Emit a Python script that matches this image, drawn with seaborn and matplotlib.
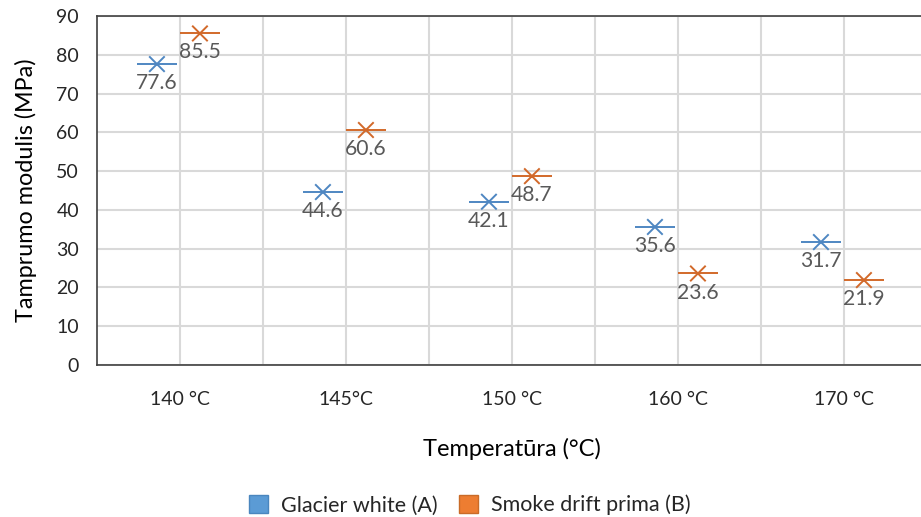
import matplotlib
matplotlib.use("Agg")
import matplotlib.pyplot as plt
import matplotlib.patches as mpatches
import seaborn as sns
import pandas as pd
import numpy as np

categories = ["140 °C", "145°C", "150 °C", "160 °C", "170 °C"]
glacier = [77.6, 44.6, 42.1, 35.6, 31.7]
smoke = [85.5, 60.6, 48.7, 23.6, 21.9]
series_names = ["Glacier white (A)", "Smoke drift prima (B)"]

sns.set_theme(style="white")
plt.rcParams["font.family"] = ["Lato", "DejaVu Sans"]

blue_line = "#4F87C2"
orange_line = "#D2692A"
blue_fill = "#5B9BD5"
orange_fill = "#ED7D31"

idx = np.arange(1, len(categories) + 1)
df = pd.DataFrame({
    "x": np.concatenate([idx - 0.139, idx + 0.12]),
    "y": glacier + smoke,
    "series": [series_names[0]] * len(glacier) + [series_names[1]] * len(smoke),
})

fig = plt.figure(figsize=(9.21, 5.17), dpi=100)
ax = fig.add_axes([97 / 921, (517 - 365) / 517, 830 / 921, 349 / 517])

palette = {series_names[0]: blue_line, series_names[1]: orange_line}
sns.scatterplot(data=df, x="x", y="y", hue="series", palette=palette,
                marker="_", s=860, linewidth=1.4, legend=False, ax=ax, zorder=3)
sns.scatterplot(data=df, x="x", y="y", hue="series", palette=palette,
                marker="x", s=125, linewidth=1.4, legend=False, ax=ax, zorder=3)

for xv, yv in zip(df["x"], df["y"]):
    ax.annotate(f"{yv:.1f}", (xv, yv), xytext=(0, -6.5), textcoords="offset points",
                ha="center", va="top", fontsize=15.2, color="#595959", zorder=4)

ax.set_xlim(0.5, 5.5)
ax.set_ylim(0, 90)
ax.set_yticks(np.arange(0, 91, 10))
ax.set_xticks(idx)
ax.set_xticklabels(categories)
for gx in np.arange(1.0, 5.6, 0.5):
    ax.axvline(gx, color="#D9D9D9", linewidth=1.5, zorder=0)
ax.grid(True, which="major", axis="y", color="#D9D9D9", linewidth=1.5)
ax.grid(False, axis="x")
ax.set_axisbelow(True)
ax.tick_params(axis="both", which="both", length=0, labelsize=14, colors="#262626")
ax.tick_params(axis="x", pad=19)
ax.tick_params(axis="y", pad=13)

for sp in ax.spines.values():
    sp.set_color("#404040")
    sp.set_linewidth(1.2)
ax.spines["right"].set_visible(False)

ax.set_xlabel("Temperatūra (°C)", fontsize=17, color="#000000", labelpad=21)
ax.set_ylabel("Tamprumo modulis (MPa)", fontsize=16.8, color="#000000", labelpad=14)

handles = [mpatches.Patch(facecolor=blue_fill, edgecolor="#4A86BE", label=series_names[0]),
           mpatches.Patch(facecolor=orange_fill, edgecolor="#C96B28", label=series_names[1])]
fig.legend(handles=handles, loc="center", bbox_to_anchor=(0.51, 0.023), ncol=2,
           frameon=False, fontsize=15.5, handlelength=0.9, handleheight=0.9,
           columnspacing=1.0, handletextpad=0.6)

fig.savefig("out.png", dpi=100)
